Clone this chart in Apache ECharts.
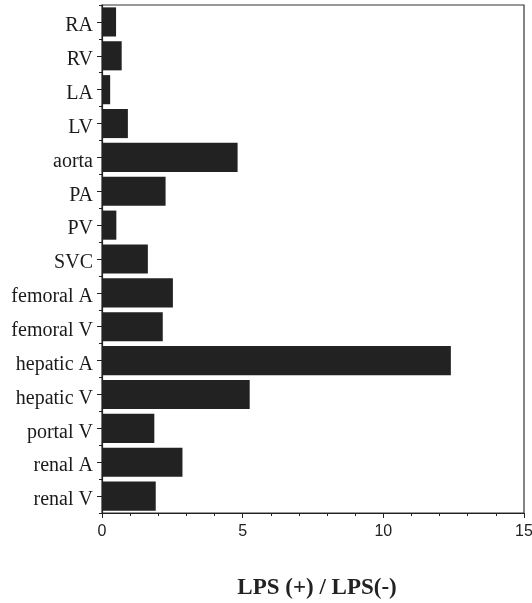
<!DOCTYPE html>
<html><head><meta charset="utf-8">
<script src="https://cdn.jsdelivr.net/npm/echarts@6/dist/echarts.min.js"></script>
<style>html,body{margin:0;padding:0;background:#fff}#c{width:532px;height:603px}</style>
</head><body><div id="c"></div>
<script>
const categories = ["RA","RV","LA","LV","aorta","PA","PV","SVC","femoral A","femoral V","hepatic A","hepatic V","portal V","renal A","renal V"];
const values = [0.5,0.7,0.29,0.92,4.82,2.26,0.51,1.63,2.52,2.16,12.4,5.25,1.86,2.86,1.91];
const xTicks = [0,5,10,15];
const xTitle = "LPS (+) / LPS(-)";

const chart = echarts.init(document.getElementById('c'), null, {renderer:'canvas'});
chart.setOption({
  animation:false,
  backgroundColor:'#fff',
  grid:{left:102,right:8,top:5,bottom:90,outerBoundsMode:'none',containLabel:false,show:true,borderColor:'#333',borderWidth:1.2,backgroundColor:'transparent'},
  xAxis:{
    type:'value',min:xTicks[0],max:xTicks[xTicks.length-1],interval:5,
    axisLine:{show:true,lineStyle:{color:'#222',width:1.2}},
    axisTick:{show:true,length:5,lineStyle:{color:'#222'}},
    minorTick:{show:true,splitNumber:5,length:3,lineStyle:{color:'#222'}},
    splitLine:{show:false},
    axisLabel:{fontFamily:'Liberation Sans',fontSize:16,color:'#222',margin:11},
    name:xTitle,nameLocation:'middle',nameGap:64,
    nameTextStyle:{fontFamily:'Liberation Serif',fontWeight:'bold',fontSize:23,color:'#222',padding:[0,0,0,8]}
  },
  yAxis:[{
    type:'category',data:categories,inverse:true,
    axisLine:{show:true,lineStyle:{color:'#222',width:1.2}},
    axisTick:{show:true,alignWithLabel:true,length:5,lineStyle:{color:'#222'}},
    axisLabel:{
      margin:9,
      formatter:function(v){return '{a|'+v+'}';},
      rich:{a:{fontFamily:'Liberation Serif',fontSize:20,color:'#1a1a1a',padding:[8,0,0,0]}}
    }
  },{
    type:'category',data:categories,inverse:true,position:'left',
    axisLine:{show:false},
    axisTick:{show:true,alignWithLabel:false,length:3,lineStyle:{color:'#222'}},
    axisLabel:{show:false}
  }],
  series:[{
    type:'bar',data:values,barCategoryGap:'14%',
    itemStyle:{color:'#222'}
  }]
});
</script></body></html>
